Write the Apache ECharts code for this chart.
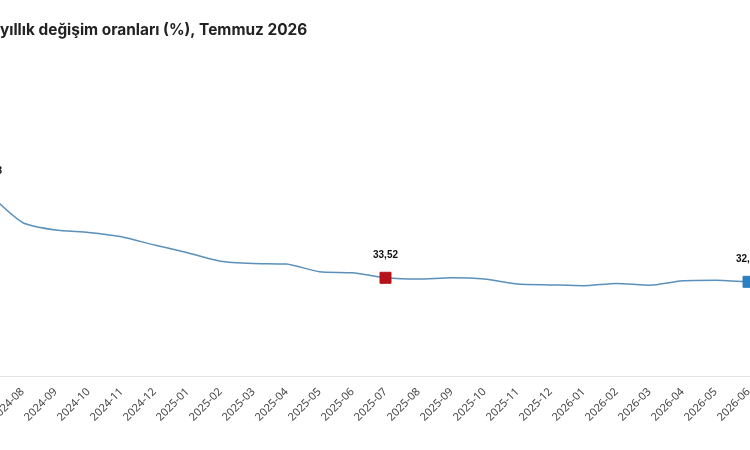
<!DOCTYPE html>
<html>
<head>
<meta charset="utf-8">
<script src="https://cdn.jsdelivr.net/npm/echarts@6/dist/echarts.min.js"></script>
<style>
  html, body { margin: 0; padding: 0; background: #fff; overflow: hidden; }
  #main { width: 750px; height: 450px; }
</style>
</head>
<body>
<div id="main"></div>
<script>
// aylar (kategori ekseni)
var months = [
  '2024-07', '2024-08', '2024-09', '2024-10', '2024-11', '2024-12',
  '2025-01', '2025-02', '2025-03', '2025-04', '2025-05', '2025-06',
  '2025-07', '2025-08', '2025-09', '2025-10', '2025-11', '2025-12',
  '2026-01', '2026-02', '2026-03', '2026-04', '2026-05', '2026-06'
]
// yıllık değişim (%)
var rates = [
  62.03, 52.4, 49.8, 49.0, 47.5, 44.7,
  42.1, 39.2, 38.4, 38.2, 35.6, 35.2,
  33.52, 33.07, 33.5, 33.07, 31.4, 31.1,
  30.8, 31.6, 31.0, 32.5, 32.7, 32.15
]
// işaretli noktalar
var marked = { '2024-07': '#b5121b', '2025-07': '#b5121b', '2026-06': '#2e7fbf' }

var chart = echarts.init(document.getElementById('main'))

var seriesData = rates.map(function (v, i) {
  var c = marked[months[i]]
  if (!c) return v
  return {
    value: v,
    symbolSize: 11,
    itemStyle: { color: c, borderColor: c },
    label: { show: true }
  }
})

chart.setOption({
  animation: false,
  title: {
    text: 'yıllık değişim oranları (%), Temmuz 2026',
    left: 0,
    top: 23,
    padding: 0,
    textStyle: {
      fontFamily: 'Inter',
      fontWeight: 'bold',
      fontSize: 15.4,
      color: '#222'
    }
  },
  grid: {
    left: -27,
    right: -15,
    top: 83,
    bottom: 74,
    containLabel: false,
    outerBoundsMode: 'none'
  },
  xAxis: {
    type: 'category',
    data: months,
    boundaryGap: true,
    axisLine: { lineStyle: { color: '#e3e3e3', width: 1 } },
    axisTick: { show: false },
    axisLabel: {
      rotate: 45,
      margin: 14,
      fontFamily: 'Noto Sans',
      fontSize: 11,
      color: '#444',
      interval: 0
    }
  },
  yAxis: {
    type: 'value',
    min: 0,
    max: 100,
    show: false
  },
  series: [{
    type: 'line',
    data: seriesData,
    smooth: 0.2,
    symbol: 'rect',
    symbolSize: 0,
    lineStyle: { color: '#5a90ba', width: 1.5 },
    itemStyle: { color: '#5a90ba' },
    label: {
      show: false,
      position: 'top',
      distance: 12,
      fontFamily: 'Liberation Sans',
      fontWeight: 'bold',
      fontSize: 10,
      color: '#111',
      formatter: function (p) {
        return p.value.toFixed(2).replace('.', ',')
      }
    }
  }]
})
</script>
</body>
</html>
